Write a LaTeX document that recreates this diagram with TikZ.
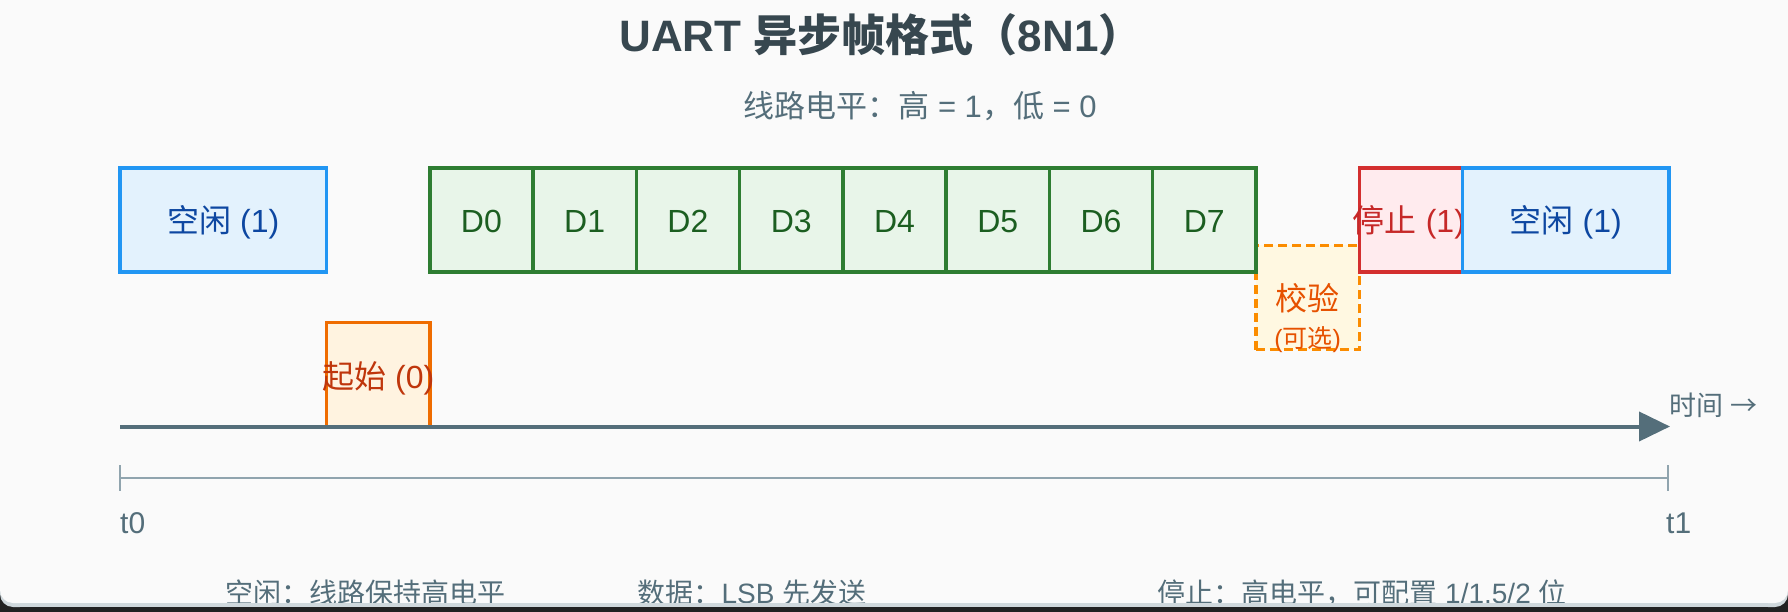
\documentclass[tikz,border=0pt]{standalone}
\usepackage{fontspec}
\setmainfont{Liberation Sans}
\newfontfamily\cjk{Noto Sans CJK SC}
\usetikzlibrary{arrows.meta}
\XeTeXinterchartokenstate=1
\newXeTeXintercharclass\cjkclass
\makeatletter
\count@="4E00
\loop\XeTeXcharclass\count@=\cjkclass \advance\count@ 1 \ifnum\count@<"A000 \repeat
\count@="3000
\loop\XeTeXcharclass\count@=\cjkclass \advance\count@ 1 \ifnum\count@<"3040 \repeat
\count@="FF00
\loop\XeTeXcharclass\count@=\cjkclass \advance\count@ 1 \ifnum\count@<"FFF0 \repeat
\makeatother
\XeTeXinterchartoks 0 \cjkclass = {\cjk}
\XeTeXinterchartoks 4095 \cjkclass = {\cjk}
\XeTeXinterchartoks \cjkclass 0 = {\rmfamily}
\XeTeXinterchartoks \cjkclass 4095 = {\rmfamily}
\newcommand\fsz[1]{\fontsize{#1pt}{#1pt}\selectfont}
\definecolor{bgC}{HTML}{FAFAFA}
\definecolor{edgeC}{HTML}{CFD8DC}
\definecolor{darkC}{HTML}{222222}
\definecolor{titleC}{HTML}{37474F}
\definecolor{slateC}{HTML}{546E7A}
\definecolor{scaleC}{HTML}{90A4AE}
\definecolor{idleS}{HTML}{2196F3}
\definecolor{idleF}{HTML}{E3F2FD}
\definecolor{idleT}{HTML}{0D47A1}
\definecolor{dataS}{HTML}{2E7D32}
\definecolor{dataF}{HTML}{E8F5E9}
\definecolor{dataT}{HTML}{1B5E20}
\definecolor{startS}{HTML}{EF6C00}
\definecolor{startF}{HTML}{FFF3E0}
\definecolor{startT}{HTML}{BF360C}
\definecolor{parS}{HTML}{FB8C00}
\definecolor{parF}{HTML}{FFF8E1}
\definecolor{parT}{HTML}{E65100}
\definecolor{stopS}{HTML}{D32F2F}
\definecolor{stopF}{HTML}{FFEBEE}
\definecolor{stopT}{HTML}{C62828}
\tikzset{
  bitbox/.style={draw, line width=3.5pt, minimum width=103.27pt, minimum height=104pt, inner sep=0pt, outer sep=0pt},
  idlebox/.style={bitbox, draw=idleS, fill=idleF, minimum width=206.53pt},
  databox/.style={bitbox, draw=dataS, fill=dataF},
  startbox/.style={bitbox, draw=startS, fill=startF},
  paritybox/.style={bitbox, draw=parS, fill=parF, dash pattern=on 9pt off 5pt},
  stopbox/.style={bitbox, draw=stopS, fill=stopF},
  lbl/.style={anchor=base, inner sep=0pt, font=\fsz{32}},
  note/.style={anchor=base, inner sep=0pt, font=\fsz{28}, text=slateC},
  axisline/.style={draw=slateC, line width=4pt, -{Triangle[length=31pt,width=29pt]}},
  scaleline/.style={draw=scaleC, line width=2.5pt},
  tickline/.style={draw=scaleC, line width=2pt},
}
\begin{document}
\begin{tikzpicture}[x=1pt,y=-1pt]
\useasboundingbox (0,0) rectangle (1788,612);
% card background
\fill[darkC] (0,560) rectangle (1788,612);
\fill[edgeC, rounded corners=13pt] (0,-40) rectangle (1788,607);
\fill[bgC, rounded corners=13pt] (0,-40) rectangle (1788,603);
% title
\node[anchor=base, inner sep=0pt, font=\fsz{44}\bfseries, text=titleC] (title) at (881,52) {UART 异步帧格式（8N1）};
\node[anchor=base, inner sep=0pt, font=\fsz{31}, text=slateC] (subtitle) at (920,118) {线路电平：高 = 1，低 = 0};
% parity (middle level)
\node[paritybox] (parity) at (1307.6,297.5) {};
% data bits
\foreach \i in {0,...,7} {
  \pgfmathsetmacro{\cx}{481.4+\i*103.27}
  \node[databox] (d\i) at (\cx,220) {};
  \node[lbl, text=dataT, yshift=-13pt] (ld\i) at (d\i.center) {D\i};
}
\node[lbl, text=parT, yshift=-12.5pt] (lpar) at (parity.center) {校验};
\node[lbl, text=parT, font=\fsz{25}, yshift=-49.5pt] (lpar2) at (parity.center) {(可选)};
% idle 1
\node[idlebox] (idle1) at (223.27,220) {};
\node[lbl, text=idleT, yshift=-13pt] (lidle1) at (idle1.center) {空闲 (1)};
% start
\node[startbox] (start) at (378.2,374.5) {};
\node[lbl, text=startT, yshift=-13.5pt] (lstart) at (start.center) {起始 (0)};
% stop
\node[stopbox] (stop) at (1410.9,220) {};
\node[lbl, text=stopT, yshift=-13pt, xshift=-2pt] (lstop) at (stop.center) {停止 (1)};
% idle 2
\node[idlebox] (idle2) at (1565.8,220) {};
\node[lbl, text=idleT, yshift=-13pt] (lidle2) at (idle2.center) {空闲 (1)};
% time axis
\coordinate (ax0) at (120,426.5);
\coordinate (ax1) at (1670,426.5);
\draw[axisline] (ax0) -- (ax1);
\node[anchor=base west, inner sep=0pt, font=\fsz{27}, text=slateC] (time) at (1669,415) {时间 {\cjk →}};
% scale
\coordinate (s0) at (120,478);
\coordinate (s1) at (1668,478);
\draw[scaleline] (s0) -- (s1);
\draw[tickline] ([yshift=13pt]s0) -- ([yshift=-13pt]s0);
\draw[tickline] ([yshift=13pt]s1) -- ([yshift=-13pt]s1);
\node[anchor=base west, inner sep=0pt, font=\fsz{30}, text=slateC] (t0) at (120,533) {t0};
\node[anchor=base west, inner sep=0pt, font=\fsz{30}, text=slateC] (t1) at (1666,533) {t1};
% footer notes
\node[note] (n1) at (365,603) {空闲：线路保持高电平};
\node[note] (n2) at (752,603) {数据：LSB 先发送};
\node[note] (n3) at (1362,603) {停止：高电平，可配置 1/1.5/2 位};
% bottom edge covering the notes
\fill[edgeC] (20,603) rectangle (1768,607);
\fill[darkC] (20,607) rectangle (1768,612);
\end{tikzpicture}
\end{document}
